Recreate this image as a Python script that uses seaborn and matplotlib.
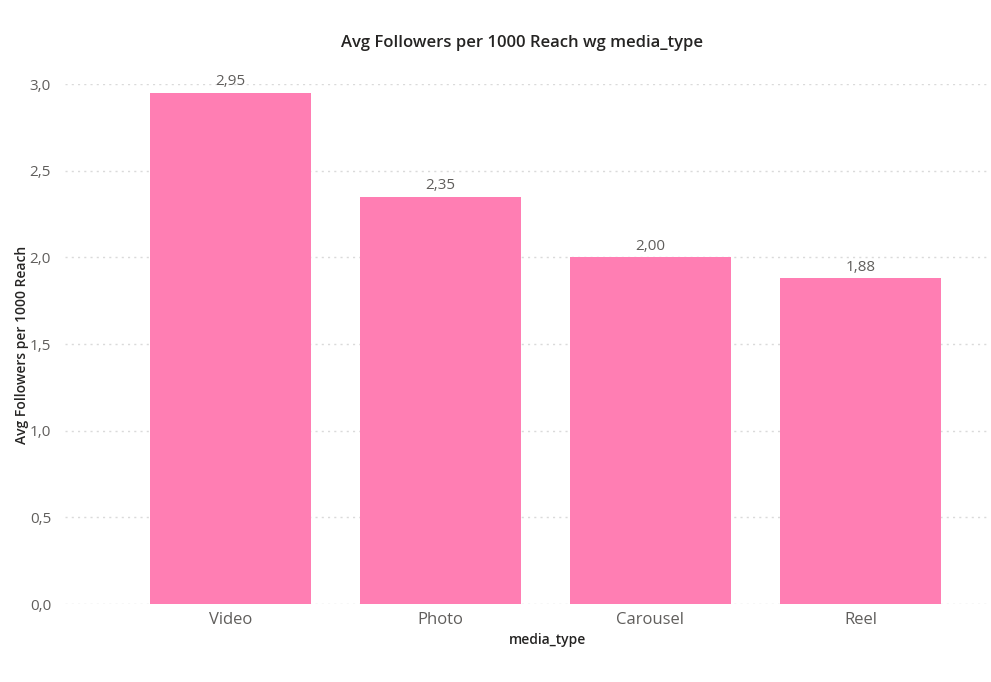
import numpy as np
import pandas as pd
import matplotlib
matplotlib.use("Agg")
import matplotlib.pyplot as plt
import seaborn as sns

# data
media_types = ["Video", "Photo", "Carousel", "Reel"]
avg_followers = [2.95, 2.35, 2.00, 1.88]
y_ticks = [0.0, 0.5, 1.0, 1.5, 2.0, 2.5, 3.0]


def comma(v, digits):
    return "{:.{}f}".format(v, digits).replace(".", ",")


def main():
    sns.set_theme(style="white")
    plt.rcParams["font.family"] = ["Open Sans", "DejaVu Sans"]

    df = pd.DataFrame({"media_type": media_types, "avg": avg_followers})

    fig = plt.figure(figsize=(9.91, 6.82), dpi=100)
    ax = fig.add_axes([65 / 991, 1 - 604 / 682, 925 / 991, 520 / 682])

    sns.barplot(data=df, x="media_type", y="avg", color="#FF7EB3",
                saturation=1, width=0.767, linewidth=0, ax=ax, zorder=3)

    ax.set_xlim(-0.788, 3.617)
    ax.set_ylim(0, 3.0)
    ax.set_yticks(y_ticks)
    ax.set_yticklabels([comma(t, 1) for t in y_ticks], color="#605E5C", fontsize=11)
    ax.tick_params(axis="y", length=0, pad=10)
    ax.tick_params(axis="x", length=0, pad=6, labelsize=12, labelcolor="#605E5C")
    ax.yaxis.grid(True, linestyle=(0, (1.5, 3)), color="#DADADA", linewidth=1, zorder=0)
    for s in ax.spines.values():
        s.set_visible(False)

    for i, v in enumerate(avg_followers):
        ax.text(i, v + 0.02, comma(v, 2), ha="center", va="bottom",
                fontsize=11, color="#605E5C", clip_on=False)

    ax.set_xlabel("")
    ax.set_ylabel("")
    fig.text(548 / 991, 1 - 640 / 682, "media_type", ha="center", va="center",
             fontsize=10, color="#252423", fontweight="semibold")
    fig.text(22 / 991, 1 - 345 / 682, "Avg Followers per 1000 Reach", ha="center",
             va="center", rotation=90, fontsize=10, color="#252423", fontweight="semibold")
    fig.text(522 / 991, 1 - 43 / 682, "Avg Followers per 1000 Reach wg media_type",
             ha="center", va="center", fontsize=12, color="#252423", fontweight="semibold")

    fig.savefig("out.png", dpi=100, facecolor="white")


if __name__ == '__main__':
    main()
